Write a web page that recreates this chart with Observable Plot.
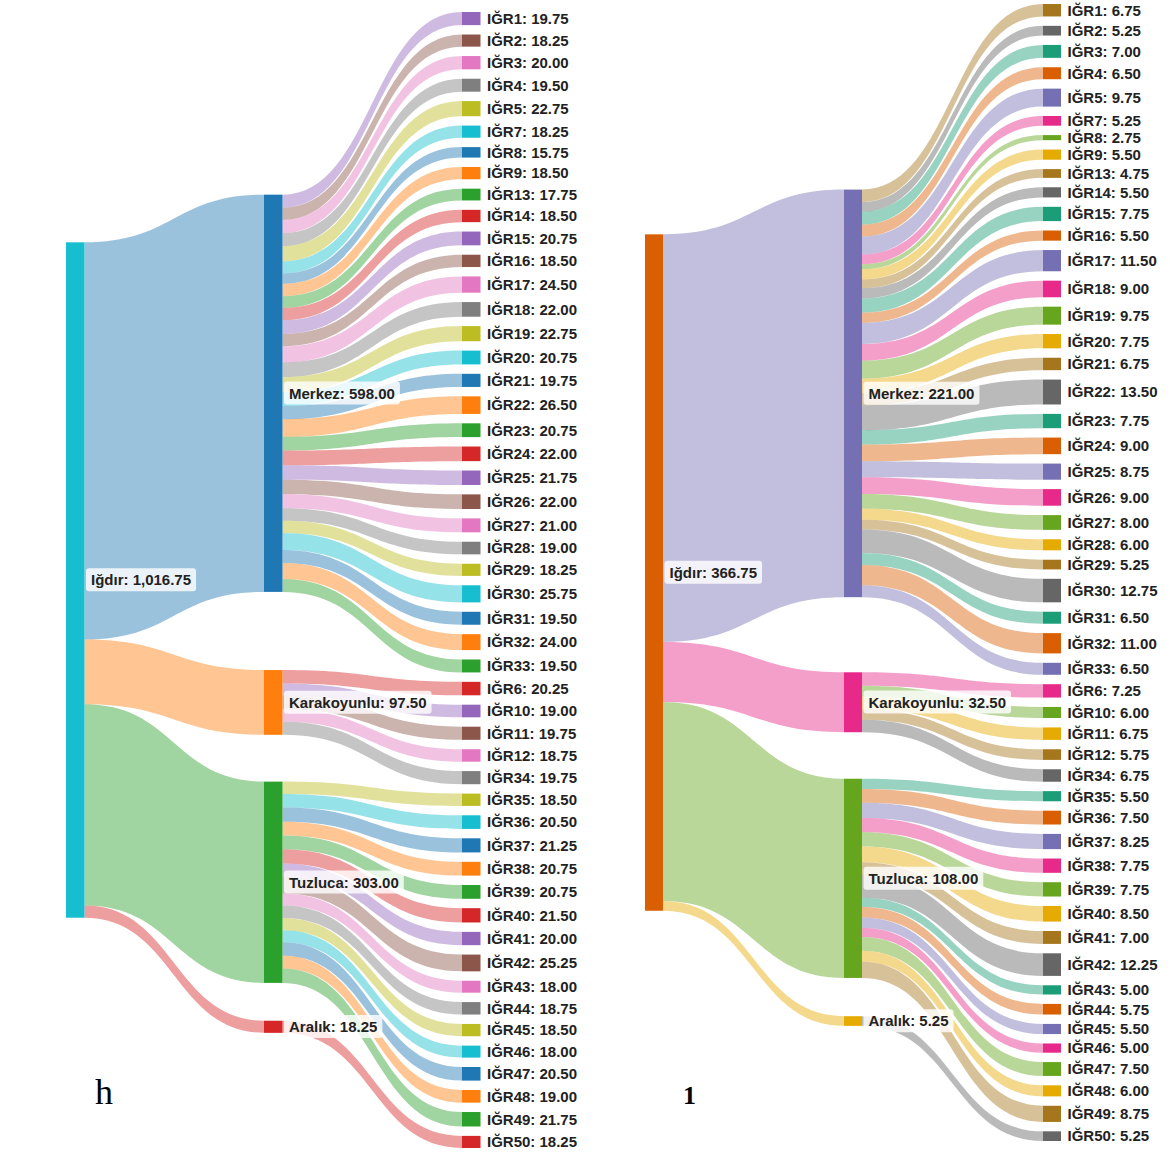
<!DOCTYPE html>
<html><head><meta charset="utf-8">
<script src="https://cdn.jsdelivr.net/npm/d3@7"></script>
<script src="https://cdn.jsdelivr.net/npm/@observablehq/plot@0.6"></script>
<style>
body{margin:0;background:#fff;}
#wrap{position:relative;width:1170px;height:1155px;display:flex;overflow:hidden;}
.panel{position:relative;flex:none;}
.panel svg{overflow:visible;}
.tag{position:absolute;font-family:"Liberation Serif","Times New Roman",serif;color:#000;line-height:1;}
</style></head><body><div id="wrap"></div>
<script>
// ---------- data ----------
const sourceName = "Iğdır";
const districts = ["Merkez", "Karakoyunlu", "Tuzluca", "Aralık"];
const merkezLeaves = ["IĞR1","IĞR2","IĞR3","IĞR4","IĞR5","IĞR7","IĞR8","IĞR9","IĞR13","IĞR14","IĞR15","IĞR16","IĞR17","IĞR18","IĞR19","IĞR20","IĞR21","IĞR22","IĞR23","IĞR24","IĞR25","IĞR26","IĞR27","IĞR28","IĞR29","IĞR30","IĞR31","IĞR32","IĞR33"];
const karakoyunluLeaves = ["IĞR6","IĞR10","IĞR11","IĞR12","IĞR34"];
const tuzlucaLeaves = ["IĞR35","IĞR36","IĞR37","IĞR38","IĞR39","IĞR40","IĞR41","IĞR42","IĞR43","IĞR44","IĞR45","IĞR46","IĞR47","IĞR48","IĞR49"];
const aralikLeaves = ["IĞR50"];

// panel h
const merkezH = [19.75,18.25,20.00,19.50,22.75,18.25,15.75,18.50,17.75,18.50,20.75,18.50,24.50,22.00,22.75,20.75,19.75,26.50,20.75,22.00,21.75,22.00,21.00,19.00,18.25,25.75,19.50,24.00,19.50];
const karakoyunluH = [20.25,19.00,19.75,18.75,19.75];
const tuzlucaH = [18.50,20.50,21.25,20.75,20.75,21.50,20.00,25.25,18.00,18.75,18.50,18.00,20.50,19.00,21.75];
const aralikH = [18.25];

// panel 1
const merkez1 = [6.75,5.25,7.00,6.50,9.75,5.25,2.75,5.50,4.75,5.50,7.75,5.50,11.50,9.00,9.75,7.75,6.75,13.50,7.75,9.00,8.75,9.00,8.00,6.00,5.25,12.75,6.50,11.00,6.50];
const karakoyunlu1 = [7.25,6.00,6.75,5.75,6.75];
const tuzluca1 = [5.50,7.50,8.25,7.75,7.75,8.50,7.00,12.25,5.00,5.75,5.50,5.00,7.50,6.00,8.75];
const aralik1 = [5.25];

const panelTags = ["h", "1"];

// ---------- layout ----------
const leafGroups = [merkezLeaves, karakoyunluLeaves, tuzlucaLeaves, aralikLeaves];
const fmt = d3.format(",.2f");

function sankey(groupValues, o) {
  const leaves = [];
  leafGroups.forEach((names, gi) => names.forEach((n, j) => leaves.push({name: n, group: gi, value: groupValues[gi][j]})));
  const total = d3.sum(leaves, d => d.value);
  const Hpx = o.height - o.marginTop - o.marginBottom;
  const k = (Hpx - (leaves.length - 1) * o.pad) / total;
  const padU = o.pad / k;
  let y = 0;
  leaves.forEach(l => { l.y0 = y; l.y1 = y + l.value; y = l.y1 + padU; });
  const ext = y - padU;
  const mids = districts.map((name, gi) => ({name, value: d3.sum(groupValues[gi]), leaves: leaves.filter(l => l.group === gi)}));
  mids.forEach(m => m.tc = d3.sum(m.leaves, l => l.value * (l.y0 + l.y1) / 2) / m.value);
  let off = 0;
  mids.forEach(m => { m.soff = off + m.value / 2; off += m.value; });
  let sy0 = (ext - total) / 2;
  for (let it = 0; it < 200; it++) {
    mids.forEach(m => { const c = (sy0 + m.soff + m.tc) / 2; m.y0 = c - m.value / 2; m.y1 = c + m.value / 2; });
    let yy = 0;
    mids.forEach(m => { const d = yy - m.y0; if (d > 0) { m.y0 += d; m.y1 += d; } yy = m.y1 + padU; });
    let yb = ext;
    for (let i = mids.length - 1; i >= 0; i--) { const m = mids[i]; const d = m.y1 - yb; if (d > 0) { m.y0 -= d; m.y1 -= d; } yb = m.y0 - padU; }
    sy0 = d3.sum(mids, m => m.value * (m.y0 + m.y1) / 2) / total - total / 2;
    sy0 = Math.max(0, Math.min(ext - total, sy0));
  }
  const nw = o.nodeW / o.colSpacing;
  const src = {name: sourceName, value: total, y0: sy0, y1: sy0 + total, x1: 0, x2: nw};
  mids.forEach(m => { m.x1 = 1; m.x2 = 1 + nw; });
  leaves.forEach(l => { l.x1 = 2; l.x2 = 2 + nw; });
  const pts = [];
  let id = 0;
  let so = src.y0;
  mids.forEach(m => {
    pts.push({id, target: m.name, x: nw, y1: so, y2: so + m.value});
    pts.push({id, target: m.name, x: 1, y1: m.y0, y2: m.y1});
    so += m.value; id++;
  });
  mids.forEach(m => {
    let s = m.y0;
    m.leaves.forEach(l => {
      pts.push({id, target: l.name, x: 1 + nw, y1: s, y2: s + l.value});
      pts.push({id, target: l.name, x: 2, y1: l.y0, y2: l.y1});
      s += l.value; id++;
    });
  });
  return {src, mids, leaves, pts, ext};
}

function panel(groupValues, o) {
  const L = sankey(groupValues, o);
  const order = [L.src.name, ...L.mids.map(m => m.name), ...L.leaves.map(l => l.name)];
  const colorRange = order.map((d, i) => o.palette[(i + o.colorOffset) % o.palette.length]);
  const inner = [L.src, ...L.mids];
  const label = d => `${d.name}: ${fmt(d.value)}`;
  const innerLabels = new Set(inner.map(label));
  const textStyle = {fontFamily: "Liberation Sans, Arial, sans-serif", fontWeight: "bold", fontSize: 15, fill: "#222", textAnchor: "start", dx: 6};
  const chart = Plot.plot({
    width: o.width, height: o.height,
    marginTop: o.marginTop, marginBottom: o.marginBottom,
    marginLeft: o.marginLeft, marginRight: o.width - o.marginLeft - 2 * o.colSpacing,
    x: {domain: [0, 2], axis: null},
    y: {domain: [0, L.ext], reverse: true, axis: null},
    color: {domain: order, range: colorRange},
    style: {fontFamily: "Liberation Sans, Arial, sans-serif", background: "transparent", overflow: "visible"},
    marks: [
      Plot.areaY(L.pts, {x: "x", y1: "y1", y2: "y2", z: "id", fill: "target", fillOpacity: 0.45, curve: "bump-x"}),
      Plot.rect([...inner, ...L.leaves], {x1: "x1", x2: "x2", y1: "y0", y2: "y1", fill: "name"}),
      Plot.text(L.leaves, {x: "x2", y: d => (d.y0 + d.y1) / 2, text: label, ...textStyle}),
      Plot.text(inner, {x: "x2", y: d => (d.y0 + d.y1) / 2, text: label, ...textStyle})
    ]
  });
  const div = document.createElement("div");
  div.className = "panel";
  div.style.width = o.width + "px";
  div.style.height = o.height + "px";
  div.appendChild(chart);
  const tag = document.createElement("div");
  tag.className = "tag";
  tag.textContent = o.tag;
  Object.assign(tag.style, o.tagStyle);
  div.appendChild(tag);
  document.getElementById("wrap").appendChild(div);
  const svg = chart.tagName.toLowerCase() === "svg" ? chart : chart.querySelector("svg");
  Array.from(svg.querySelectorAll("text")).filter(t => innerLabels.has(t.textContent)).forEach(t => {
    const b = t.getBBox();
    const r = document.createElementNS("http://www.w3.org/2000/svg", "rect");
    r.setAttribute("x", b.x - 5);
    r.setAttribute("y", b.y - 3);
    r.setAttribute("width", b.width + 10);
    r.setAttribute("height", b.height + 6);
    r.setAttribute("rx", 3);
    r.setAttribute("fill", "#ffffff");
    r.setAttribute("fill-opacity", 0.8);
    r.setAttribute("stroke", "none");
    if (t.getAttribute("transform")) r.setAttribute("transform", t.getAttribute("transform"));
    t.parentNode.insertBefore(r, t);
  });
}

panel([merkezH, karakoyunluH, tuzlucaH, aralikH], {
  width: 579, height: 1155, marginTop: 12, marginBottom: 7, marginLeft: 66,
  colSpacing: 198, nodeW: 18.5, pad: 9.4,
  palette: d3.schemeCategory10, colorOffset: 9,
  tag: panelTags[0], tagStyle: {left: "95px", top: "1074px", fontSize: "36px"}
});
panel([merkez1, karakoyunlu1, tuzluca1, aralik1], {
  width: 591, height: 1155, marginTop: 4, marginBottom: 14, marginLeft: 66,
  colSpacing: 199, nodeW: 18, pad: 9.4,
  palette: d3.schemeDark2, colorOffset: 1,
  tag: panelTags[1], tagStyle: {left: "104px", top: "1083px", fontSize: "26px", fontWeight: "bold"}
});
</script>
</body></html>
